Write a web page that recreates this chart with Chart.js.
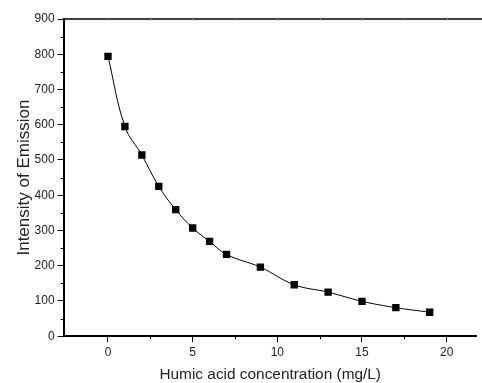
<!DOCTYPE html>
<html>
<head>
<meta charset="utf-8">
<script src="https://cdn.jsdelivr.net/npm/chart.js@4/dist/chart.umd.min.js"></script>
<style>
  html, body { margin: 0; padding: 0; background: #fff; }
  #wrap { width: 482px; height: 383px; }
</style>
</head>
<body>
<div id="wrap"><canvas id="c" width="482" height="383"></canvas></div>
<script>
const concentration = [0, 1, 2, 3, 4, 5, 6, 7, 9, 11, 13, 15, 17, 19];
const intensity = [794, 595, 514, 425, 359, 307, 269, 232, 196, 146, 125, 99, 81, 68];
const xTickValues = [0, 5, 10, 15, 20];
const xMinorTicks = [2.5, 7.5, 12.5, 17.5];
const yTickValues = [0, 100, 200, 300, 400, 500, 600, 700, 800, 900];
const yMinorTicks = [50, 150, 250, 350, 450, 550, 650, 750, 850];
const xTitle = 'Humic acid concentration (mg/L)';
const yTitle = 'Intensity of Emission';

const fontFamily = '"Liberation Sans", Arial, sans-serif';

const minorTicksPlugin = {
  id: 'minorTicks',
  afterDraw(chart) {
    const ctx = chart.ctx;
    const xs = chart.scales.x, ys = chart.scales.y;
    const area = chart.chartArea;
    ctx.save();
    ctx.strokeStyle = '#000';
    ctx.beginPath();
    ctx.lineWidth = 1.5;
    ctx.moveTo(area.left, area.top);
    ctx.lineTo(chart.width, area.top);
    ctx.stroke();
    ctx.lineWidth = 1;
    ctx.beginPath();
    yMinorTicks.forEach(v => {
      const y = Math.round(ys.getPixelForValue(v)) + 0.5;
      ctx.moveTo(area.left - 3, y);
      ctx.lineTo(area.left, y);
    });
    xMinorTicks.forEach(v => {
      const x = Math.round(xs.getPixelForValue(v)) + 0.5;
      ctx.moveTo(x, area.bottom);
      ctx.lineTo(x, area.bottom + 3);
    });
    ctx.stroke();
    ctx.strokeStyle = '#bbb';
    ctx.beginPath();
    xTickValues.concat(xMinorTicks).forEach(v => {
      const x = Math.round(xs.getPixelForValue(v)) + 0.5;
      ctx.moveTo(x, area.top);
      ctx.lineTo(x, area.top + 2);
    });
    ctx.stroke();
    ctx.restore();
  }
};

new Chart(document.getElementById('c'), {
  type: 'line',
  data: {
    datasets: [{
      data: concentration.map((x, i) => ({ x: x, y: intensity[i] })),
      borderColor: '#000',
      borderWidth: 1,
      backgroundColor: '#000',
      pointStyle: 'rect',
      pointRadius: 5.2,
      pointBorderWidth: 0,
      pointBackgroundColor: '#000',
      tension: 0.4,
      fill: false
    }]
  },
  plugins: [minorTicksPlugin],
  options: {
    responsive: false,
    animation: false,
    events: [],
    layout: { padding: { left: 18, top: 19, right: 0, bottom: 0 } },
    plugins: { legend: { display: false }, tooltip: { enabled: false } },
    scales: {
      x: {
        type: 'linear',
        min: -2.62,
        max: 21.78,
        afterBuildTicks: axis => { axis.ticks = xTickValues.map(v => ({ value: v })); },
        grid: { drawOnChartArea: false, drawTicks: true, tickLength: 6, tickColor: '#000', tickWidth: 1 },
        border: { display: true, color: '#000', width: 2 },
        ticks: { color: '#222', font: { family: fontFamily, size: 12 }, padding: 3, maxRotation: 0 },
        title: { display: true, text: xTitle, color: '#222', font: { family: fontFamily, size: 15.4, lineHeight: 1 }, padding: { top: 4, bottom: 1 } }
      },
      y: {
        type: 'linear',
        min: 0,
        max: 900,
        afterBuildTicks: axis => { axis.ticks = yTickValues.map(v => ({ value: v })); },
        grid: { drawOnChartArea: false, drawTicks: true, tickLength: 6, tickColor: '#000', tickWidth: 1 },
        border: { display: true, color: '#000', width: 2 },
        ticks: { color: '#222', font: { family: fontFamily, size: 12 }, padding: 3 },
        title: { display: true, text: yTitle, color: '#222', font: { family: fontFamily, size: 17, lineHeight: 0.8 }, padding: { top: 0, bottom: 0 } }
      }
    }
  }
});
</script>
</body>
</html>
